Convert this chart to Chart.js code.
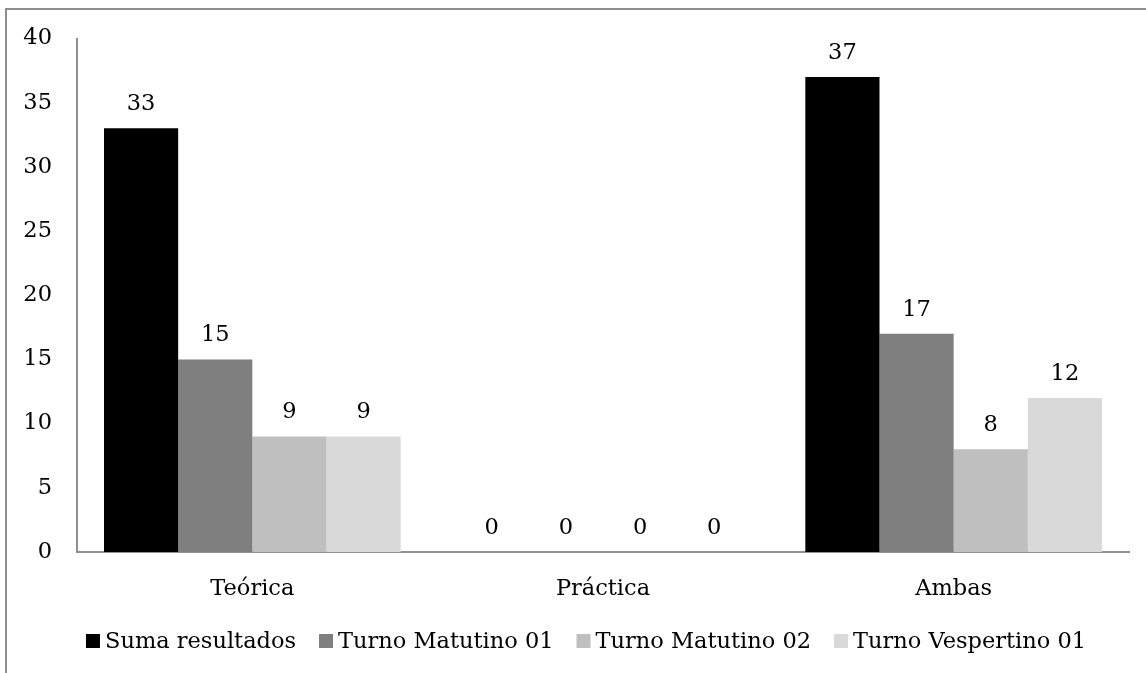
<!DOCTYPE html>
<html>
<head>
<meta charset="utf-8">
<script src="https://cdn.jsdelivr.net/npm/chart.js@4.4.1/dist/chart.umd.min.js"></script>
<style>
  html, body { margin: 0; padding: 0; background: #ffffff; }
  canvas { display: block; }
</style>
</head>
<body>
<canvas id="chart" width="1146" height="673"></canvas>
<script>
// Categories and series
const categories = ['Teórica', 'Práctica', 'Ambas'];
const sumaResultados = [33, 0, 37];
const turnoMatutino01 = [15, 0, 17];
const turnoMatutino02 = [9, 0, 8];
const turnoVespertino01 = [9, 0, 12];
const seriesNames = ['Suma resultados', 'Turno Matutino 01', 'Turno Matutino 02', 'Turno Vespertino 01'];
const yTicks = [0, 5, 10, 15, 20, 25, 30, 35, 40];

const FONT = "'DejaVu Serif', 'Liberation Serif', serif";
const FONT_SIZE = 22.5;
const AXIS_GRAY = '#8f8f8f';
const colors = ['#000000', '#7f7f7f', '#bfbfbf', '#d9d9d9'];

// Partial frame around the chart (left and top edges)
const framePlugin = {
  id: 'frame',
  beforeDraw(chart) {
    const ctx = chart.ctx;
    ctx.save();
    ctx.strokeStyle = AXIS_GRAY;
    ctx.lineWidth = 2;
    ctx.beginPath();
    ctx.moveTo(6, chart.height);
    ctx.lineTo(6, 9);
    ctx.lineTo(chart.width, 9);
    ctx.stroke();
    ctx.restore();
  }
};

// Value labels above each bar
const valueLabels = {
  id: 'valueLabels',
  afterDatasetsDraw(chart) {
    const ctx = chart.ctx;
    ctx.save();
    ctx.font = FONT_SIZE + 'px ' + FONT;
    ctx.fillStyle = '#000000';
    ctx.textAlign = 'center';
    ctx.textBaseline = 'middle';
    chart.data.datasets.forEach((ds, i) => {
      const meta = chart.getDatasetMeta(i);
      meta.data.forEach((bar, j) => {
        ctx.fillText(String(ds.data[j]), bar.x, bar.y - 24);
      });
    });
    ctx.restore();
  }
};

// Legend row under the axis: small square swatch, tight gap, then the series name
const legendRow = {
  id: 'legendRow',
  afterDraw(chart) {
    const ctx = chart.ctx;
    const box = 14, gapText = 5, gapItem = 23, centerX = 586, centerY = 641;
    ctx.save();
    ctx.font = FONT_SIZE + 'px ' + FONT;
    ctx.textBaseline = 'middle';
    ctx.textAlign = 'left';
    const items = chart.data.datasets.map(ds => ({
      text: ds.label, color: ds.backgroundColor, w: ctx.measureText(ds.label).width
    }));
    const total = items.reduce((s, it) => s + box + gapText + it.w, 0) + gapItem * (items.length - 1);
    let x = centerX - total / 2;
    items.forEach(it => {
      ctx.fillStyle = it.color;
      ctx.fillRect(x, centerY - box / 2, box, box);
      ctx.fillStyle = '#000000';
      ctx.fillText(it.text, x + box + gapText, centerY + 1);
      x += box + gapText + it.w + gapItem;
    });
    ctx.restore();
  }
};

const seriesData = [sumaResultados, turnoMatutino01, turnoMatutino02, turnoVespertino01];

new Chart(document.getElementById('chart'), {
  type: 'bar',
  data: {
    labels: categories,
    datasets: seriesNames.map((name, i) => ({
      label: name,
      data: seriesData[i],
      backgroundColor: colors[i],
      borderWidth: 0,
      categoryPercentage: 0.846,
      barPercentage: 1.0
    }))
  },
  options: {
    responsive: false,
    devicePixelRatio: 1,
    animation: false,
    layout: { padding: { left: 0, top: 38, right: 17, bottom: 57 } },
    plugins: {
      legend: { display: false },
      tooltip: { enabled: false }
    },
    scales: {
      x: {
        grid: { display: false, drawTicks: false },
        border: { display: true, color: AXIS_GRAY, width: 2 },
        ticks: {
          font: { family: FONT, size: FONT_SIZE },
          color: '#000000',
          padding: 24
        },
        afterFit(scale) { scale.height = 64; }
      },
      y: {
        min: 0,
        max: 40,
        grid: { display: false, drawTicks: false },
        border: { display: true, color: AXIS_GRAY, width: 2 },
        afterBuildTicks(scale) { scale.ticks = yTicks.map(v => ({ value: v })); },
        ticks: {
          font: { family: FONT, size: FONT_SIZE },
          color: '#000000',
          padding: 25
        },
        afterFit(scale) { scale.width = 77; }
      }
    }
  },
  plugins: [framePlugin, valueLabels, legendRow]
});
</script>
</body>
</html>
